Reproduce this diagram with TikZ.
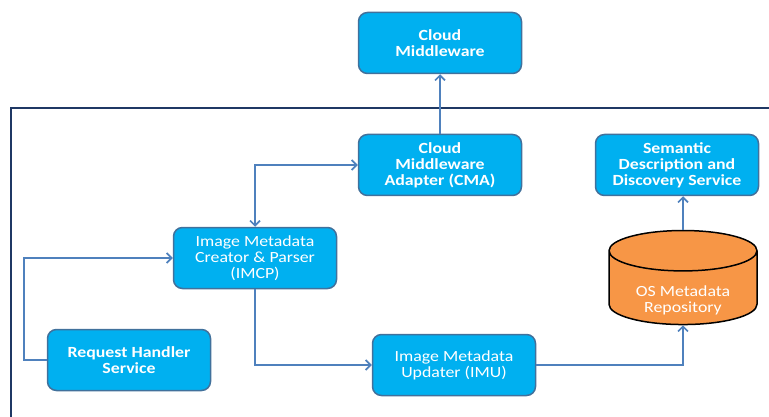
\documentclass[tikz,border=0pt]{standalone}
\usepackage{fontspec}
\setmainfont{Carlito}[FakeStretch=1.15]
\usetikzlibrary{shapes.geometric,arrows.meta}
\definecolor{boxfill}{HTML}{00B0F0}
\definecolor{boxline}{HTML}{41719C}
\definecolor{repofill}{HTML}{F79646}
\definecolor{linkblue}{HTML}{4F81BD}
\definecolor{framenavy}{HTML}{1F3864}
\newcommand{\lowline}[1]{\raisebox{-5pt}[0pt][0pt]{#1}}

\begin{document}
\begin{tikzpicture}[x=1pt,y=-1pt]
    \tikzset{block/.style={draw=boxline, fill=boxfill, rounded corners=9pt, line width=1.5pt,
      minimum width=163pt, minimum height=61pt, align=center, text=white,
      font=\fontsize{15.5}{16}\selectfont}}
    \tikzset{strong block/.style={block, font=\fontsize{15.5}{16}\selectfont\bfseries}}
    \tikzset{link/.style={draw=linkblue, line width=1.6pt, -{Straight Barb[length=5pt,width=10pt]}}}
    \useasboundingbox (0,0) rectangle (769,417);
    \draw[framenavy, line width=1.8pt] (11,418) -- (11,108) -- (770,108);
    \node[strong block] (cloud) at (440,43) {Cloud\\Middleware};
    \node[strong block] (cma) at (440,165) {Cloud\\Middleware\\Adapter (CMA)};
    \node[strong block] (sdds) at (677,165) {Semantic\\Description and\\Discovery Service};
    \node[block] (imcp) at (255,258) {Image Metadata\\Creator \& Parser\\(IMCP)};
    \node[strong block] (rhs) at (129,360) {Request Handler\\Service};
    \node[block] (imu) at (454,365) {Image Metadata\\Updater (IMU)};
    \node[cylinder, shape border rotate=90, aspect=0.4, draw=black, line width=1.5pt,
      fill=repofill, text=white, minimum width=148pt, minimum height=83pt, align=center,
      font=\fontsize{15.5}{16}\selectfont] (repo) at (683,291)
      {\\\lowline{OS Metadata}\\\lowline{Repository}};
    \coordinate (rhbend) at (24,360);
    \draw[link] (cma.north) -- (cloud.south);
    \draw[link, {Straight Barb[length=5pt,width=10pt]}-{Straight Barb[length=5pt,width=10pt]}] (imcp.north) |- (cma.west);
    \draw[link] (rhs.west) -- (rhbend) |- (imcp.west);
    \draw[link] (imcp.south) |- (imu.west);
    \draw[link] (imu.east) -| (repo.south);
    \draw[link] (repo.north) -- (repo.north |- sdds.south);
\end{tikzpicture}
\end{document}
